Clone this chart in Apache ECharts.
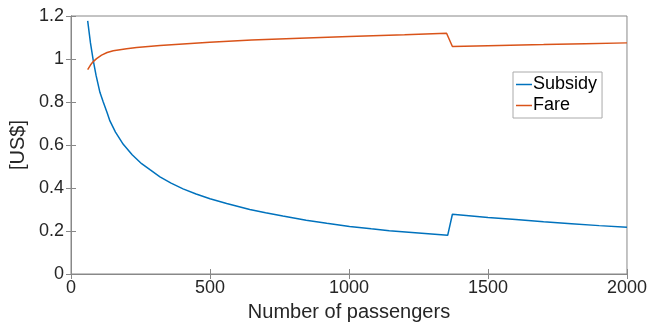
<!DOCTYPE html>
<html>
<head>
<meta charset="utf-8">
<script src="https://cdn.jsdelivr.net/npm/echarts@6/dist/echarts.min.js"></script>
<style>html,body{margin:0;padding:0;background:#fff;}#c{width:650px;height:327px;}</style>
</head>
<body>
<div id="c"></div>
<script>
const subsidyX = [60, 70, 80, 90, 104, 116, 130, 140, 160, 188, 220, 254, 284, 320, 360, 403, 450, 500, 560, 643, 700, 762, 846, 920, 1002, 1080, 1145, 1250, 1355, 1372, 1500, 1600, 1700, 1800, 1900, 2000];
const subsidyY = [1.177, 1.075, 0.994, 0.925, 0.845, 0.800, 0.750, 0.712, 0.660, 0.603, 0.555, 0.513, 0.485, 0.452, 0.423, 0.396, 0.372, 0.350, 0.328, 0.300, 0.285, 0.270, 0.250, 0.236, 0.221, 0.210, 0.201, 0.191, 0.180, 0.278, 0.263, 0.253, 0.243, 0.234, 0.225, 0.217];
const fareX = [60, 70, 80, 92, 110, 130, 152, 200, 236, 320, 499, 650, 822, 1000, 1200, 1351, 1372, 1500, 1700, 1850, 2000];
const fareY = [0.951, 0.972, 0.988, 1.002, 1.018, 1.030, 1.038, 1.048, 1.054, 1.063, 1.078, 1.088, 1.097, 1.105, 1.113, 1.120, 1.058, 1.062, 1.067, 1.071, 1.075];
const seriesNames = ['Subsidy', 'Fare'];
const xTitle = 'Number of passengers';
const yTitle = '[US$]';

const pair = (xs, ys) => xs.map((x, i) => [x, ys[i]]);
const font = 'Liberation Sans, Arial, Helvetica, sans-serif';
const axisGray = '#888888';
const textColor = '#262626';

const chart = echarts.init(document.getElementById('c'), null, {renderer: 'canvas'});
chart.setOption({
  animation: false,
  backgroundColor: '#fff',
  grid: {left: 71, top: 16, right: 22, bottom: 49, show: true, borderColor: axisGray, borderWidth: 1},
  legend: {
    orient: 'vertical', left: 513, top: 72, padding: [3, 5, 3, 3], itemGap: 2,
    icon: 'rect', itemWidth: 16, itemHeight: 1.5,
    borderColor: '#aaaaaa', borderWidth: 1, backgroundColor: '#fff', borderRadius: 0,
    textStyle: {fontFamily: font, fontSize: 18, color: '#000', lineHeight: 19, padding: [0, 0, 0, -4]},
    data: seriesNames
  },
  xAxis: [{
    type: 'value', min: 0, max: 2000, interval: 500,
    name: xTitle, nameLocation: 'middle', nameGap: 28,
    nameTextStyle: {fontFamily: font, fontSize: 20, color: textColor},
    axisLine: {lineStyle: {color: axisGray}},
    axisTick: {inside: true, length: 5, lineStyle: {color: axisGray}},
    axisLabel: {fontFamily: font, fontSize: 18, color: textColor, margin: 5, formatter: v => String(v)},
    splitLine: {show: false}
  }, {
    type: 'value', position: 'top', min: 0, max: 2000, interval: 500,
    axisLine: {show: true, lineStyle: {color: axisGray}},
    axisTick: {inside: true, length: 5, lineStyle: {color: axisGray}},
    axisLabel: {show: false}, splitLine: {show: false}
  }],
  yAxis: [{
    type: 'value', min: 0, max: 1.2, interval: 0.2,
    name: yTitle, nameLocation: 'middle', nameGap: 30, nameRotate: 90,
    nameTextStyle: {fontFamily: font, fontSize: 20, color: textColor},
    axisLine: {show: true, lineStyle: {color: axisGray}},
    axisTick: {show: true, inside: true, length: 5, lineStyle: {color: axisGray}},
    axisLabel: {fontFamily: font, fontSize: 18, color: textColor, margin: 7},
    splitLine: {show: false}
  }, {
    type: 'value', position: 'right', min: 0, max: 1.2, interval: 0.2,
    axisLine: {show: true, lineStyle: {color: axisGray}},
    axisTick: {show: true, inside: true, length: 5, lineStyle: {color: axisGray}},
    axisLabel: {show: false}, splitLine: {show: false}
  }],
  series: [{
    name: seriesNames[0], type: 'line', symbol: 'none', smooth: false,
    lineStyle: {color: '#0072BD', width: 1.5}, itemStyle: {color: '#0072BD'},
    data: pair(subsidyX, subsidyY)
  }, {
    name: seriesNames[1], type: 'line', symbol: 'none', smooth: false,
    lineStyle: {color: '#D95319', width: 1.5}, itemStyle: {color: '#D95319'},
    data: pair(fareX, fareY)
  }]
});
</script>
</body>
</html>
